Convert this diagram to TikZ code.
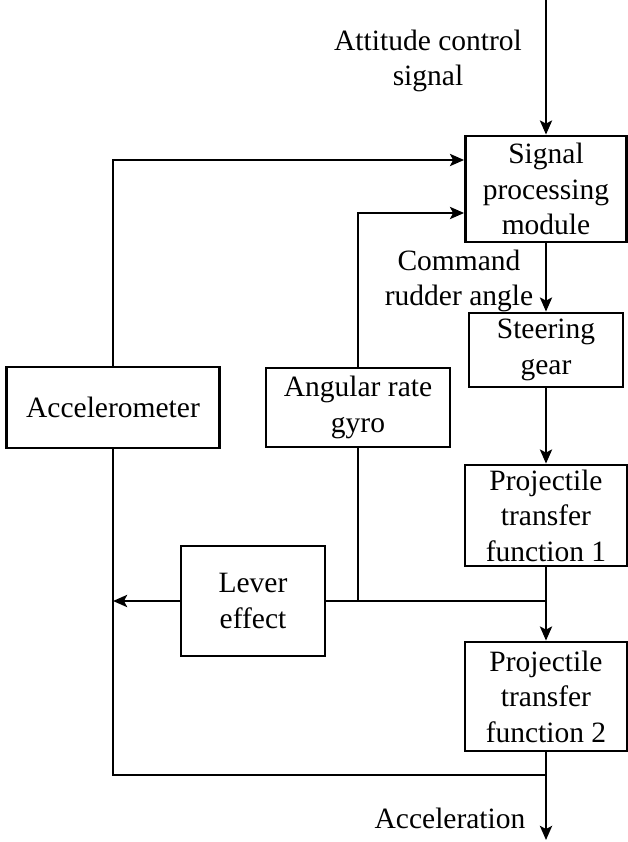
\documentclass[tikz,border=0pt]{standalone}
\usepackage{fontspec}
\setmainfont{Liberation Serif}
\usetikzlibrary{arrows.meta}
\begin{document}
\begin{tikzpicture}[x=1pt,y=-1pt,
  font=\fontsize{29.5}{35.5}\selectfont,
  blk/.style={draw,line width=2.8pt,align=center,inner sep=0pt},
  conn/.style={line width=2.8pt},
  arr/.style={conn,-{Stealth[length=14pt,width=12pt,inset=3pt]}},
  lbl/.style={align=center,inner sep=0pt}]
\useasboundingbox (0,0) rectangle (627,842);
\node[blk,minimum width=161pt,minimum height=106pt] (sig) at (546,189) {Signal\\processing\\module};
\node[blk,minimum width=154pt,minimum height=74pt] (steer) at (546,350) {Steering\\gear};
\node[blk,minimum width=162pt,minimum height=101pt] (p1) at (546,515.5) {Projectile\\transfer\\function 1};
\node[blk,minimum width=162pt,minimum height=109pt] (p2) at (546,696.5) {Projectile\\transfer\\function 2};
\node[blk,minimum width=213pt,minimum height=81pt] (acc) at (113,407.5) {Accelerometer};
\node[blk,minimum width=184pt,minimum height=79pt] (gyro) at (358,407.5) {Angular rate\\gyro};
\node[blk,minimum width=144pt,minimum height=110pt] (lever) at (253,601) {Lever\\effect};
\coordinate (top) at (546,0);
\coordinate (j1) at (546,601);
\coordinate (j2) at (546,775);
\coordinate (out) at (546,840);
\node[lbl] (att) at (428,61) {Attitude control\\signal};
\node[lbl] (cmd) at (459,281) {Command\\rudder angle};
\node[lbl] (accl) at (450,818) {Acceleration};
\draw[arr] (top) -- (sig.north);
\draw[arr] (acc.north) |- ([yshift=29pt]sig.west);
\draw[arr] (gyro.north) |- ([yshift=-24pt]sig.west);
\draw[arr] (sig.south) -- (steer.north);
\draw[arr] (steer.south) -- (p1.north);
\draw[arr] (p1.south) -- (p2.north);
\draw[conn] (j1) -- (lever.east);
\draw[conn] (gyro.south) -- (gyro.south |- j1);
\draw[arr] (lever.west) -- (acc.south |- lever.west);
\draw[arr] (p2.south) -- (out);
\draw[conn] (j2) -| (acc.south);
\end{tikzpicture}
\end{document}
